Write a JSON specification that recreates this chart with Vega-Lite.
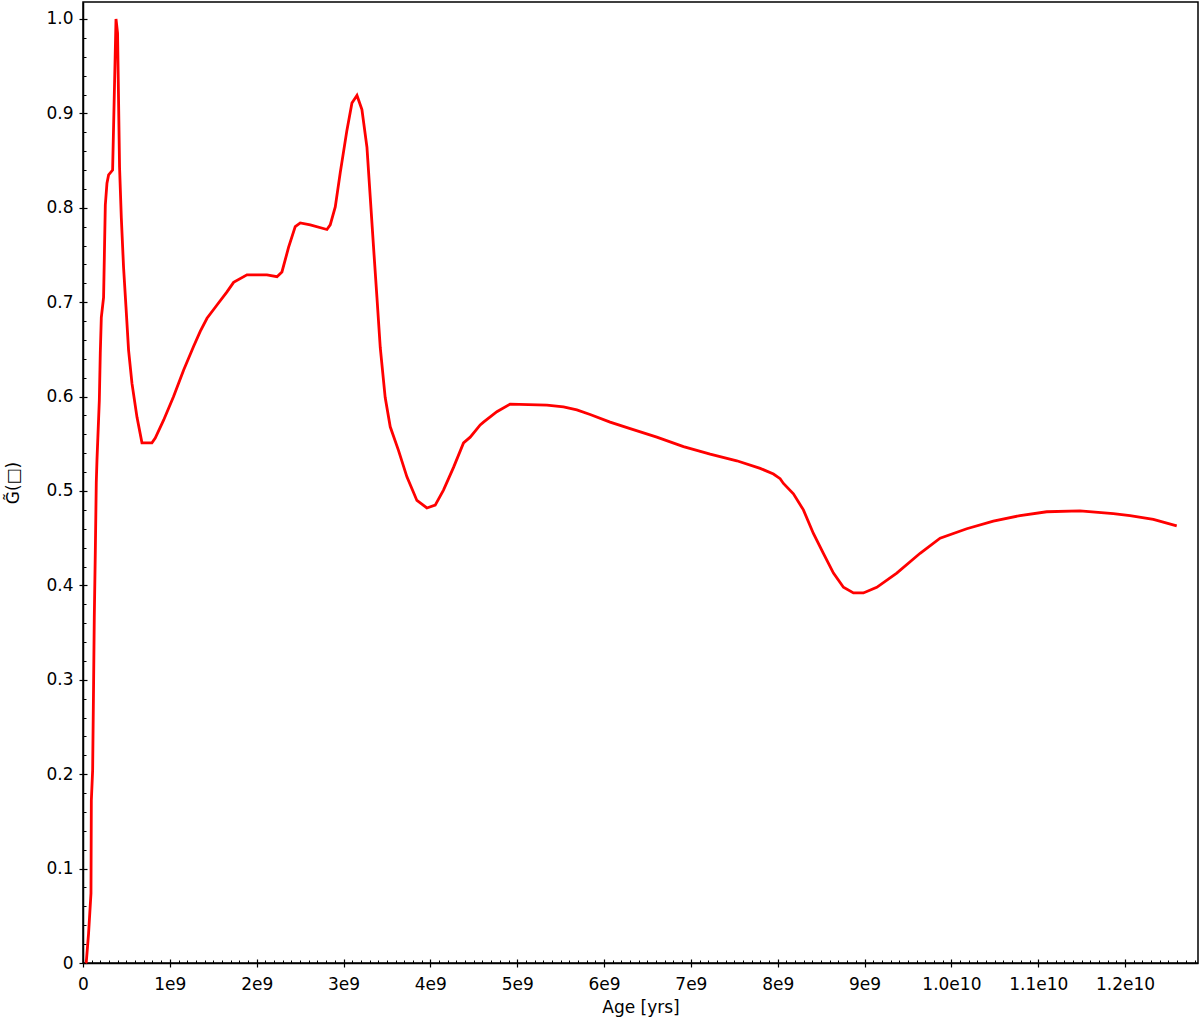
{
  "$schema": "https://vega.github.io/schema/vega-lite/v6.json",
  "width": 1115,
  "height": 961,
  "autosize": {"type": "none"},
  "padding": {"left": 83, "top": 2, "right": 2, "bottom": 55},
  "background": "white",
  "config": {
    "view": {"stroke": "black", "strokeWidth": 1.5},
    "font": "DejaVu Sans",
    "axis": {"grid": false, "domainColor": "black", "tickColor": "black", "labelColor": "black", "titleColor": "black", "labelFont": "DejaVu Sans", "titleFont": "DejaVu Sans", "labelFontSize": 17, "titleFontSize": 17, "titleFontWeight": "normal"}
  },
  "data": {"values": [
    {"age": 30000000, "g": 0.0},
    {"age": 38000000, "g": 0.001},
    {"age": 64000000, "g": 0.031},
    {"age": 92000000, "g": 0.074},
    {"age": 96000000, "g": 0.172},
    {"age": 111000000, "g": 0.204},
    {"age": 122000000, "g": 0.296},
    {"age": 130000000, "g": 0.366},
    {"age": 142000000, "g": 0.437},
    {"age": 153000000, "g": 0.509},
    {"age": 161000000, "g": 0.533},
    {"age": 188000000, "g": 0.596},
    {"age": 199000000, "g": 0.646},
    {"age": 211000000, "g": 0.684},
    {"age": 237000000, "g": 0.705},
    {"age": 257000000, "g": 0.803},
    {"age": 276000000, "g": 0.826},
    {"age": 295000000, "g": 0.835},
    {"age": 341000000, "g": 0.84},
    {"age": 380000000, "g": 1.0},
    {"age": 398000000, "g": 0.985},
    {"age": 421000000, "g": 0.843},
    {"age": 441000000, "g": 0.79},
    {"age": 467000000, "g": 0.737},
    {"age": 495000000, "g": 0.695},
    {"age": 525000000, "g": 0.649},
    {"age": 564000000, "g": 0.614},
    {"age": 622000000, "g": 0.578},
    {"age": 679000000, "g": 0.551},
    {"age": 794000000, "g": 0.551},
    {"age": 832000000, "g": 0.556},
    {"age": 928000000, "g": 0.575},
    {"age": 1043000000, "g": 0.6},
    {"age": 1158000000, "g": 0.628},
    {"age": 1273000000, "g": 0.653},
    {"age": 1350000000, "g": 0.669},
    {"age": 1428000000, "g": 0.683},
    {"age": 1543000000, "g": 0.697},
    {"age": 1658000000, "g": 0.711},
    {"age": 1734000000, "g": 0.721},
    {"age": 1888000000, "g": 0.729},
    {"age": 2118000000, "g": 0.729},
    {"age": 2234000000, "g": 0.727},
    {"age": 2291000000, "g": 0.732},
    {"age": 2367000000, "g": 0.758},
    {"age": 2444000000, "g": 0.78},
    {"age": 2502000000, "g": 0.784},
    {"age": 2617000000, "g": 0.782},
    {"age": 2809000000, "g": 0.777},
    {"age": 2847000000, "g": 0.782},
    {"age": 2905000000, "g": 0.801},
    {"age": 2962000000, "g": 0.837},
    {"age": 3039000000, "g": 0.882},
    {"age": 3097000000, "g": 0.911},
    {"age": 3155000000, "g": 0.919},
    {"age": 3212000000, "g": 0.904},
    {"age": 3270000000, "g": 0.864},
    {"age": 3308000000, "g": 0.811},
    {"age": 3346000000, "g": 0.758},
    {"age": 3385000000, "g": 0.705},
    {"age": 3423000000, "g": 0.652},
    {"age": 3480000000, "g": 0.599},
    {"age": 3538000000, "g": 0.568},
    {"age": 3633000000, "g": 0.543},
    {"age": 3730000000, "g": 0.515},
    {"age": 3845000000, "g": 0.49},
    {"age": 3960000000, "g": 0.482},
    {"age": 4056000000, "g": 0.485},
    {"age": 4151000000, "g": 0.501},
    {"age": 4267000000, "g": 0.525},
    {"age": 4382000000, "g": 0.551},
    {"age": 4459000000, "g": 0.557},
    {"age": 4574000000, "g": 0.57},
    {"age": 4612000000, "g": 0.573},
    {"age": 4766000000, "g": 0.584},
    {"age": 4919000000, "g": 0.592},
    {"age": 5342000000, "g": 0.591},
    {"age": 5533000000, "g": 0.589},
    {"age": 5687000000, "g": 0.586},
    {"age": 5840000000, "g": 0.581},
    {"age": 6070000000, "g": 0.573},
    {"age": 6301000000, "g": 0.566},
    {"age": 6608000000, "g": 0.557},
    {"age": 6915000000, "g": 0.547},
    {"age": 7222000000, "g": 0.539},
    {"age": 7529000000, "g": 0.532},
    {"age": 7798000000, "g": 0.524},
    {"age": 7951000000, "g": 0.518},
    {"age": 8028000000, "g": 0.513},
    {"age": 8066000000, "g": 0.508},
    {"age": 8181000000, "g": 0.497},
    {"age": 8296000000, "g": 0.48},
    {"age": 8411000000, "g": 0.455},
    {"age": 8526000000, "g": 0.434},
    {"age": 8642000000, "g": 0.413},
    {"age": 8757000000, "g": 0.398},
    {"age": 8872000000, "g": 0.392},
    {"age": 8987000000, "g": 0.392},
    {"age": 9141000000, "g": 0.398},
    {"age": 9371000000, "g": 0.413},
    {"age": 9640000000, "g": 0.434},
    {"age": 9870000000, "g": 0.45},
    {"age": 10177000000, "g": 0.46},
    {"age": 10483000000, "g": 0.468},
    {"age": 10791000000, "g": 0.474},
    {"age": 11098000000, "g": 0.478},
    {"age": 11481000000, "g": 0.479},
    {"age": 11865000000, "g": 0.476},
    {"age": 12057000000, "g": 0.474},
    {"age": 12326000000, "g": 0.47},
    {"age": 12595000000, "g": 0.463}
  ]},
  "resolve": {"axis": {"x": "independent", "y": "independent"}},
  "layer": [
    {
      "mark": {"type": "line", "strokeOpacity": 0},
      "encoding": {
        "x": {"field": "age", "type": "quantitative", "scale": {"domain": [0, 12840000000], "nice": false, "zero": false},
          "axis": {"orient": "bottom", "title": null, "labels": false, "domain": false, "tickSize": -3, "tickWidth": 1,
            "values": [100000000,200000000,300000000,400000000,500000000,600000000,700000000,800000000,900000000,1100000000,1200000000,1300000000,1400000000,1500000000,1600000000,1700000000,1800000000,1900000000,2100000000,2200000000,2300000000,2400000000,2500000000,2600000000,2700000000,2800000000,2900000000,3100000000,3200000000,3300000000,3400000000,3500000000,3600000000,3700000000,3800000000,3900000000,4100000000,4200000000,4300000000,4400000000,4500000000,4600000000,4700000000,4800000000,4900000000,5100000000,5200000000,5300000000,5400000000,5500000000,5600000000,5700000000,5800000000,5900000000,6100000000,6200000000,6300000000,6400000000,6500000000,6600000000,6700000000,6800000000,6900000000,7100000000,7200000000,7300000000,7400000000,7500000000,7600000000,7700000000,7800000000,7900000000,8100000000,8200000000,8300000000,8400000000,8500000000,8600000000,8700000000,8800000000,8900000000,9100000000,9200000000,9300000000,9400000000,9500000000,9600000000,9700000000,9800000000,9900000000,10100000000,10200000000,10300000000,10400000000,10500000000,10600000000,10700000000,10800000000,10900000000,11100000000,11200000000,11300000000,11400000000,11500000000,11600000000,11700000000,11800000000,11900000000,12100000000,12200000000,12300000000,12400000000,12500000000,12600000000,12700000000,12800000000]}},
        "y": {"field": "g", "type": "quantitative", "scale": {"domain": [0, 1.018], "nice": false, "zero": false},
          "axis": {"orient": "left", "title": null, "labels": false, "domain": false, "tickSize": -3, "tickWidth": 1,
            "values": [0.02,0.04,0.06,0.08,0.12,0.14,0.16,0.18,0.22,0.24,0.26,0.28,0.32,0.34,0.36,0.38,0.42,0.44,0.46,0.48,0.52,0.54,0.56,0.58,0.62,0.64,0.66,0.68,0.72,0.74,0.76,0.78,0.82,0.84,0.86,0.88,0.92,0.94,0.96,0.98]}}
      }
    },
    {
      "mark": {"type": "line", "strokeOpacity": 0},
      "encoding": {
        "x": {"field": "age", "type": "quantitative", "scale": {"domain": [0, 12840000000], "nice": false, "zero": false},
          "axis": {"orient": "bottom", "title": null, "labels": false, "domain": false, "tickSize": -4, "tickWidth": 1.2,
            "values": [0,1000000000,2000000000,3000000000,4000000000,5000000000,6000000000,7000000000,8000000000,9000000000,10000000000,11000000000,12000000000]}},
        "y": {"field": "g", "type": "quantitative", "scale": {"domain": [0, 1.018], "nice": false, "zero": false},
          "axis": {"orient": "left", "title": null, "labels": false, "domain": false, "tickSize": -4, "tickWidth": 1.2,
            "values": [0,0.1,0.2,0.3,0.4,0.5,0.6,0.7,0.8,0.9,1.0]}}
      }
    },
    {
      "mark": {"type": "line", "color": "#ff0000", "strokeWidth": 2.8},
      "encoding": {
        "x": {"field": "age", "type": "quantitative", "scale": {"domain": [0, 12840000000], "nice": false, "zero": false},
          "axis": {"orient": "bottom", "title": "Age [yrs]", "titlePadding": 7, "domainWidth": 1.5, "tickSize": 4, "tickWidth": 1.2, "labelPadding": 9, "labelFlush": false,
            "values": [0,1000000000,2000000000,3000000000,4000000000,5000000000,6000000000,7000000000,8000000000,9000000000,10000000000,11000000000,12000000000],
            "labelExpr": "datum.value == 0 ? '0' : (datum.value < 10000000000 ? format(datum.value/1000000000, 'd') + 'e9' : format(datum.value/10000000000, '.1f') + 'e10')"}},
        "y": {"field": "g", "type": "quantitative", "scale": {"domain": [0, 1.018], "nice": false, "zero": false},
          "axis": {"orient": "left", "title": "G̃(□)", "titlePadding": 23, "domainWidth": 1.5, "tickSize": 4, "tickWidth": 1.2, "labelPadding": 6, "labelFlush": false,
            "values": [0,0.1,0.2,0.3,0.4,0.5,0.6,0.7,0.8,0.9,1.0],
            "labelExpr": "datum.value == 0 ? '0' : format(datum.value, '.1f')"}}
      }
    }
  ]
}
